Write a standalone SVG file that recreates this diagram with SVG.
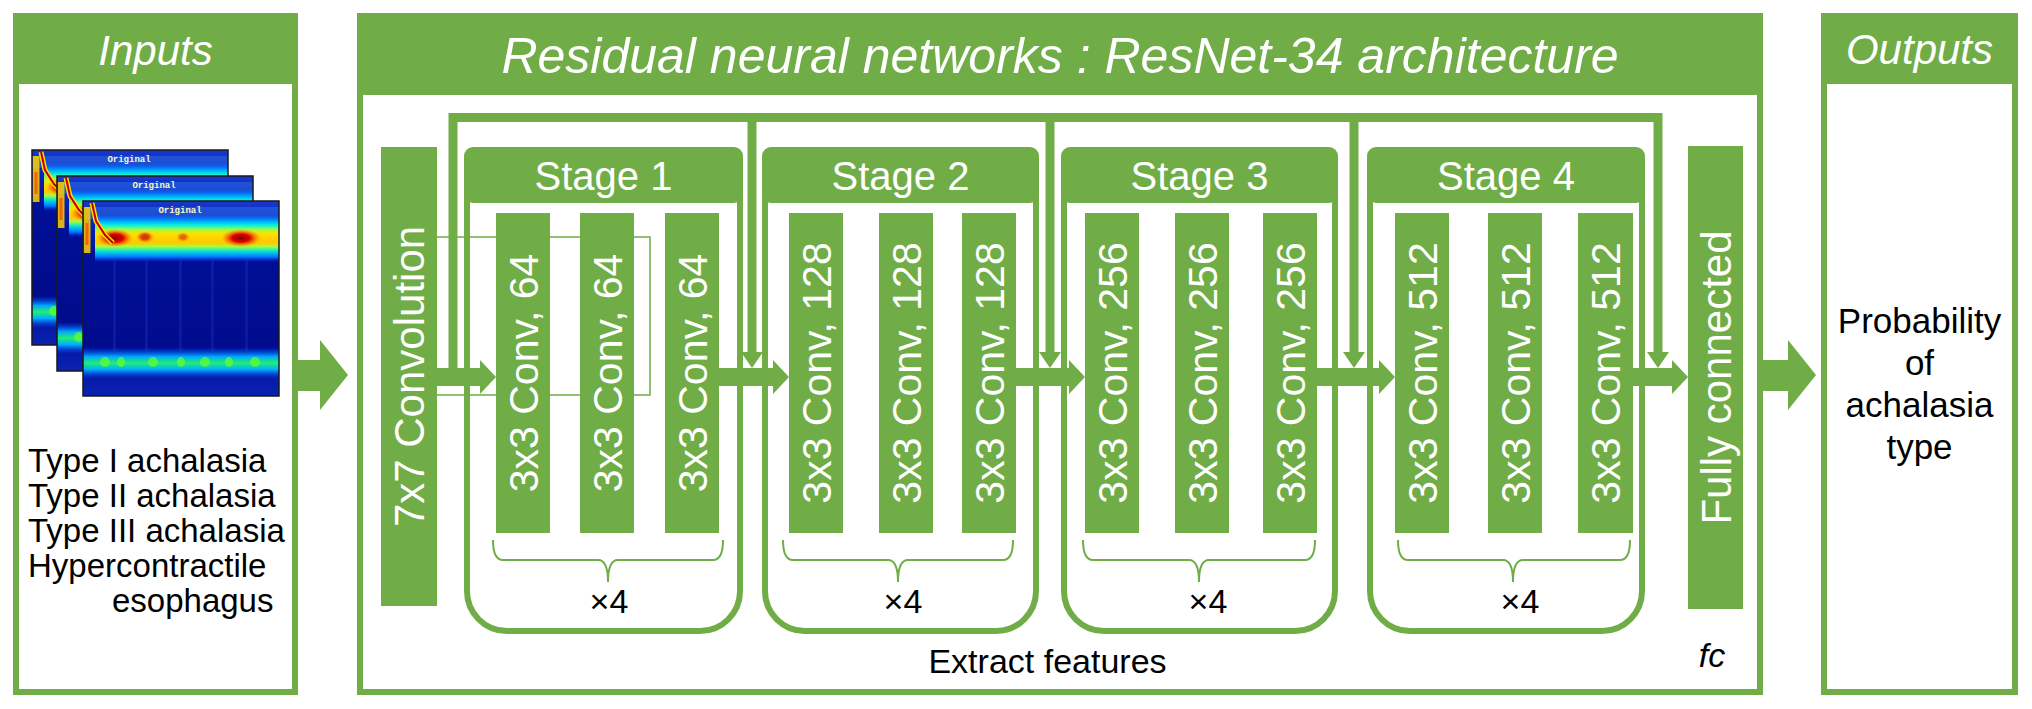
<svg xmlns="http://www.w3.org/2000/svg" width="2032" height="709" viewBox="0 0 2032 709">
<style>
.frame{fill:none;stroke:#70AD47;stroke-width:6}
.g{fill:#70AD47}
.htxt{font-family:"Liberation Sans",Arial,sans-serif;font-style:italic;fill:#fff;text-anchor:middle}
.wt{font-family:"Liberation Sans",Arial,sans-serif;fill:#fff;text-anchor:middle}
.bt{font-family:"Liberation Sans",Arial,sans-serif;fill:#000}
.mid{text-anchor:middle}
.brace{fill:none;stroke:#70AD47;stroke-width:2}
.thin{fill:none;stroke:#70AD47;stroke-width:1.5}
.skip{fill:none;stroke:#70AD47;stroke-width:9}
.stg{fill:none;stroke:#70AD47;stroke-width:6}
.conv{font-size:41px}
</style>
<defs>
<linearGradient id="specBg" x1="0" y1="0" x2="0" y2="1">
<stop offset="0" stop-color="#1838cc"/>
<stop offset="0.12" stop-color="#0a22b8"/>
<stop offset="0.3" stop-color="#000f96"/>
<stop offset="0.75" stop-color="#000c8c"/>
<stop offset="1" stop-color="#0a22b4"/>
</linearGradient>
<linearGradient id="bandUp" x1="0" y1="0" x2="0" y2="1">
<stop offset="0" stop-color="#0050ff" stop-opacity="0"/>
<stop offset="0.12" stop-color="#0090ff"/>
<stop offset="0.22" stop-color="#00e8e8"/>
<stop offset="0.32" stop-color="#90ff50"/>
<stop offset="0.40" stop-color="#ffe000"/>
<stop offset="0.60" stop-color="#ffc800"/>
<stop offset="0.68" stop-color="#a0ff40"/>
<stop offset="0.78" stop-color="#00e0e0"/>
<stop offset="0.9" stop-color="#0070ff"/>
<stop offset="1" stop-color="#0030e0" stop-opacity="0"/>
</linearGradient>
<linearGradient id="bandLow" x1="0" y1="0" x2="0" y2="1">
<stop offset="0" stop-color="#0040ff" stop-opacity="0"/>
<stop offset="0.3" stop-color="#00a8ff"/>
<stop offset="0.5" stop-color="#20f070"/>
<stop offset="0.7" stop-color="#00b0ff"/>
<stop offset="1" stop-color="#0040ff" stop-opacity="0"/>
</linearGradient>
<radialGradient id="hot">
<stop offset="0" stop-color="#8a0000"/>
<stop offset="0.45" stop-color="#e00000"/>
<stop offset="1" stop-color="#ff7000" stop-opacity="0"/>
</radialGradient>
<g id="spec">
<rect width="196" height="195" fill="url(#specBg)"/>
<rect x="0" y="6" width="196" height="12" fill="#3aa0ff" opacity="0.3"/>
<g fill="#2a50ff" opacity="0.2">
<rect x="30" y="58" width="3" height="92"/>
<rect x="62" y="58" width="3" height="92"/>
<rect x="96" y="58" width="3" height="92"/>
<rect x="128" y="58" width="3" height="92"/>
<rect x="162" y="58" width="3" height="92"/>
</g>
<rect x="12" y="13" width="184" height="48" fill="url(#bandUp)"/>
<ellipse cx="32" cy="37" rx="18" ry="9" fill="url(#hot)"/>
<ellipse cx="62" cy="36" rx="9" ry="6" fill="url(#hot)" opacity="0.7"/>
<ellipse cx="100" cy="36" rx="7" ry="5" fill="url(#hot)" opacity="0.5"/>
<ellipse cx="158" cy="37" rx="20" ry="9" fill="url(#hot)"/>
<path d="M4,6 V52" stroke="#ffd000" stroke-width="7" fill="none" opacity="0.85"/>
<path d="M4,22 V44" stroke="#ff4000" stroke-width="3" fill="none" opacity="0.7"/>
<path d="M9,2 L13,20 L22,34 L30,42" stroke="#ffe000" stroke-width="5" fill="none"/>
<path d="M9,2 L13,20 L22,34 L30,42" stroke="#c00000" stroke-width="2" fill="none"/>
<rect x="0" y="146" width="196" height="32" fill="url(#bandLow)"/>
<g fill="#60ff30" opacity="0.75">
<ellipse cx="22" cy="161" rx="5" ry="5"/>
<ellipse cx="38" cy="161" rx="4" ry="5"/>
<ellipse cx="70" cy="161" rx="5" ry="5"/>
<ellipse cx="98" cy="161" rx="4" ry="5"/>
<ellipse cx="122" cy="161" rx="5" ry="5"/>
<ellipse cx="146" cy="161" rx="4" ry="5"/>
<ellipse cx="172" cy="161" rx="5" ry="5"/>
</g>
<text x="97" y="12" font-family="'Liberation Mono',monospace" font-weight="bold" font-size="9" fill="#fff8c0" text-anchor="middle">Original</text>
<rect width="196" height="195" fill="none" stroke="#1a1a1a" stroke-width="1.5"/>
</g>
</defs>
<rect width="2032" height="709" fill="#fff"/>

<g id="connectors">
<path class="thin" d="M437,237 H650 V395 H437"/>
<polygon class="g" points="298,360 320,360 320,340 348,375 320,410 320,391 298,391"/>
<polygon class="g" points="1763,360 1788,360 1788,340 1816,375 1788,410 1788,391 1763,391"/>
<polygon class="g" points="437,368 480,368 480,360 496,377 480,394 480,386 437,386"/>
<polygon class="g" points="719,368 773,368 773,360 789,377 773,394 773,386 719,386"/>
<polygon class="g" points="1016,368 1069,368 1069,360 1085,377 1069,394 1069,386 1016,386"/>
<polygon class="g" points="1317,368 1379,368 1379,360 1395,377 1379,394 1379,386 1317,386"/>
<polygon class="g" points="1633,368 1672,368 1672,360 1688,377 1672,394 1672,386 1633,386"/>
<path class="skip" d="M453,377 V117.5 H1658 V355"/>
<path class="skip" d="M752,117.5 V355 M1050,117.5 V355 M1354,117.5 V355"/>
<polygon class="g" points="741,352 763,352 752,368"/>
<polygon class="g" points="1039,352 1061,352 1050,368"/>
<polygon class="g" points="1343,352 1365,352 1354,368"/>
<polygon class="g" points="1647,352 1669,352 1658,368"/>
</g>

<g id="inputs">
<rect class="frame" x="16" y="16" width="279" height="676"/>
<rect class="g" x="13" y="13" width="285" height="71"/>
<text class="htxt" x="155.5" y="65" font-size="42">Inputs</text>
<use href="#spec" x="32" y="150"/>
<use href="#spec" x="57" y="176"/>
<use href="#spec" x="83" y="201"/>
<text class="bt" font-size="33" x="28" y="472">Type I achalasia</text>
<text class="bt" font-size="33" x="28" y="507">Type II achalasia</text>
<text class="bt" font-size="33" x="28" y="542">Type III achalasia</text>
<text class="bt" font-size="33" x="28" y="577">Hypercontractile</text>
<text class="bt" font-size="33" x="112" y="612">esophagus</text>
</g>

<g id="resnet">
<rect class="frame" x="360" y="16" width="1400" height="676"/>
<rect class="g" x="357" y="13" width="1406" height="82"/>
<text class="htxt" x="1060" y="73" font-size="50">Residual neural networks : ResNet-34 architecture</text>
<text class="bt mid" x="1047.5" y="673" font-size="34">Extract features</text>
<text class="bt mid" x="1712" y="667" font-size="34" font-style="italic">fc</text>
</g>

<g id="conv7x7">
<rect class="g" x="381" y="147" width="56" height="459"/>
<text class="wt" font-size="42" transform="translate(409,376.5) rotate(-90)" y="15">7x7 Convolution</text>
</g>

<g id="stage1">
<path class="stg" d="M467,195 V591 A40,40 0 0 0 507,631 H700 A40,40 0 0 0 740,591 V195"/>
<rect class="g" x="464" y="147" width="279" height="56" rx="9"/>
<text class="wt" x="603.5" y="190" font-size="40">Stage 1</text>
<rect class="g" x="496" y="213" width="54" height="320"/>
<rect class="g" x="580" y="213" width="54" height="320"/>
<rect class="g" x="665" y="213" width="54" height="320"/>
<text class="wt conv" transform="translate(523,373) rotate(-90)" y="14.5">3x3 Conv, 64</text>
<text class="wt conv" transform="translate(607,373) rotate(-90)" y="14.5">3x3 Conv, 64</text>
<text class="wt conv" transform="translate(692,373) rotate(-90)" y="14.5">3x3 Conv, 64</text>
<path class="brace" d="M493,540 Q493,560 503,560 H598 Q608,560 608,582 Q608,560 618,560 H713 Q723,560 723,540"/>
<text class="bt mid" x="609" y="613" font-size="34">&#215;4</text>
</g>

<g id="stage2">
<path class="stg" d="M765,195 V591 A40,40 0 0 0 805,631 H996 A40,40 0 0 0 1036,591 V195"/>
<rect class="g" x="762" y="147" width="277" height="56" rx="9"/>
<text class="wt" x="900.5" y="190" font-size="40">Stage 2</text>
<rect class="g" x="789" y="213" width="54" height="320"/>
<rect class="g" x="879" y="213" width="54" height="320"/>
<rect class="g" x="962" y="213" width="54" height="320"/>
<text class="wt conv" transform="translate(816,373) rotate(-90)" y="14.5">3x3 Conv, 128</text>
<text class="wt conv" transform="translate(906,373) rotate(-90)" y="14.5">3x3 Conv, 128</text>
<text class="wt conv" transform="translate(989,373) rotate(-90)" y="14.5">3x3 Conv, 128</text>
<path class="brace" d="M783,540 Q783,560 793,560 H888 Q898,560 898,582 Q898,560 908,560 H1003 Q1013,560 1013,540"/>
<text class="bt mid" x="903" y="613" font-size="34">&#215;4</text>
</g>

<g id="stage3">
<path class="stg" d="M1064,195 V591 A40,40 0 0 0 1104,631 H1295 A40,40 0 0 0 1335,591 V195"/>
<rect class="g" x="1061" y="147" width="277" height="56" rx="9"/>
<text class="wt" x="1199.5" y="190" font-size="40">Stage 3</text>
<rect class="g" x="1085" y="213" width="54" height="320"/>
<rect class="g" x="1175" y="213" width="54" height="320"/>
<rect class="g" x="1263" y="213" width="54" height="320"/>
<text class="wt conv" transform="translate(1112,373) rotate(-90)" y="14.5">3x3 Conv, 256</text>
<text class="wt conv" transform="translate(1202,373) rotate(-90)" y="14.5">3x3 Conv, 256</text>
<text class="wt conv" transform="translate(1290,373) rotate(-90)" y="14.5">3x3 Conv, 256</text>
<path class="brace" d="M1083,540 Q1083,560 1093,560 H1189 Q1199,560 1199,582 Q1199,560 1209,560 H1305 Q1315,560 1315,540"/>
<text class="bt mid" x="1208" y="613" font-size="34">&#215;4</text>
</g>

<g id="stage4">
<path class="stg" d="M1370,195 V591 A40,40 0 0 0 1410,631 H1602 A40,40 0 0 0 1642,591 V195"/>
<rect class="g" x="1367" y="147" width="278" height="56" rx="9"/>
<text class="wt" x="1506" y="190" font-size="40">Stage 4</text>
<rect class="g" x="1395" y="213" width="54" height="320"/>
<rect class="g" x="1488" y="213" width="54" height="320"/>
<rect class="g" x="1578" y="213" width="55" height="320"/>
<text class="wt conv" transform="translate(1422,373) rotate(-90)" y="14.5">3x3 Conv, 512</text>
<text class="wt conv" transform="translate(1515,373) rotate(-90)" y="14.5">3x3 Conv, 512</text>
<text class="wt conv" transform="translate(1605.5,373) rotate(-90)" y="14.5">3x3 Conv, 512</text>
<path class="brace" d="M1398,540 Q1398,560 1408,560 H1503 Q1513,560 1513,582 Q1513,560 1523,560 H1620 Q1630,560 1630,540"/>
<text class="bt mid" x="1520" y="613" font-size="34">&#215;4</text>
</g>

<g id="fully-connected">
<rect class="g" x="1688" y="146" width="55" height="463"/>
<text class="wt" font-size="42" transform="translate(1715.5,377.5) rotate(-90)" y="15">Fully connected</text>
</g>

<g id="outputs">
<rect class="frame" x="1824" y="16" width="191" height="676"/>
<rect class="g" x="1821" y="13" width="197" height="71"/>
<text class="htxt" x="1919.5" y="64" font-size="42">Outputs</text>
<text class="bt mid" x="1919.5" y="333" font-size="35">Probability</text>
<text class="bt mid" x="1919.5" y="375" font-size="35">of</text>
<text class="bt mid" x="1919.5" y="417" font-size="35">achalasia</text>
<text class="bt mid" x="1919.5" y="459" font-size="35">type</text>
</g>
</svg>
